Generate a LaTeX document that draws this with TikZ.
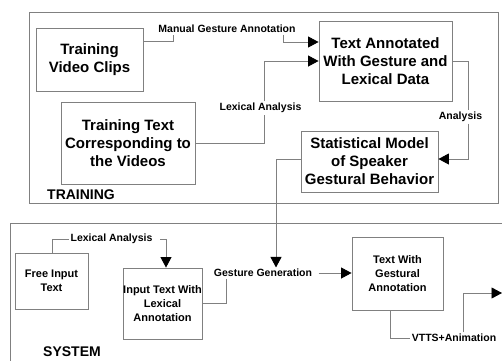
\documentclass[tikz,border=0pt]{standalone}
\usepackage{fontspec}
\setmainfont{Liberation Sans}
\usetikzlibrary{arrows.meta}
\definecolor{linegray}{RGB}{128,128,128}
\begin{document}
\begin{tikzpicture}[x=1pt,y=-1pt,
  box/.style={draw=linegray, line width=0.9pt, align=center, inner sep=0pt, font=\bfseries\fontsize{15}{18}\selectfont},
  sbox/.style={box, font=\bfseries\fontsize{11}{14}\selectfont},
  lab/.style={font=\bfseries\fontsize{10.5}{12}\selectfont, inner sep=1.5pt},
  conn/.style={draw=linegray, line width=0.9pt},
  arr/.style={conn, -{Triangle[length=10.5pt,width=11pt,color=black]}},
  frame/.style={draw=linegray, line width=0.9pt},
  title/.style={font=\bfseries\fontsize{14}{16}\selectfont, inner sep=0pt, anchor=base west}]
\useasboundingbox (0,0) rectangle (502,360);
\clip (0,0) rectangle (502,360);
% frames
\draw[frame] (29,12) rectangle (498,203);
\draw[frame] (502,223) -- (10,223) -- (10,362);
\node[title] (ttrain) at (47,199) {TRAINING};
\node[title] (tsys) at (43,356.5) {SYSTEM};
% boxes
\node[box, minimum width=107pt, minimum height=63pt] (vid) at (89.5,59.5) {Training\\Video Clips};
\node[box, minimum width=134pt, minimum height=82pt] (txt) at (128,143) {Training Text\\Corresponding to\\the Videos};
\node[box, minimum width=133pt, minimum height=80pt] (ann) at (385.5,61) {Text Annotated\\With Gesture and\\Lexical Data};
\node[box, minimum width=137pt, minimum height=61pt] (stat) at (369.5,161.5) {Statistical Model\\of Speaker\\Gestural Behavior};
\node[sbox, minimum width=73pt, minimum height=56pt] (fit) at (51.5,281) {Free Input\\Text};
\node[sbox, minimum width=79pt, minimum height=71pt] (inp) at (162.5,303.5) {Input Text With\\Lexical\\Annotation};
\node[sbox, minimum width=91pt, minimum height=73pt] (tga) at (397.5,273.5) {Text With\\Gestural\\Annotation};
% labels
\node[lab] (mga) at (227,29) {Manual Gesture Annotation};
\node[lab] (la1) at (260.5,108) {Lexical Analysis};
\node[lab] (an) at (460.5,117) {Analysis};
\node[lab] (la2) at (111.5,239) {Lexical Analysis};
\node[lab] (gg) at (263,273) {Gesture Generation};
\node[lab] (vtts) at (454,338) {VTTS+Animation};
\coordinate (out) at (502,293);
% connectors
\draw[conn] (vid.east |- 0,41) -| (mga.south -| 173,0);
\draw[arr] (mga.south -| 283,0) |- (ann.west |- 0,42);
\draw[conn] (txt.east) -| (la1.south -| 264,0);
\draw[arr] (la1.north -| 264,0) |- (ann.west |- 0,61);
\draw[conn] (ann.east) -| (an.north -| 468,0);
\draw[arr] (an.south -| 468,0) |- (stat.east |- 0,159);
\draw[arr] (stat.west |- 0,159) -| (gg.north -| 276,0);
\draw[conn] (inp.east) -| (gg.south -| 226,0);
\draw[arr] ([xshift=5pt]gg.east) -- (tga.west |- gg.east);
\draw[conn] (fit.north -| 52,0) |- (la2.west);
\draw[arr] ([xshift=6pt]la2.east) -| (inp.north -| 166,0);
\draw[conn] (tga.south -| 390,0) |- (vtts.west);
\draw[arr] (vtts.north -| 463,0) |- (out);
\end{tikzpicture}
\end{document}
